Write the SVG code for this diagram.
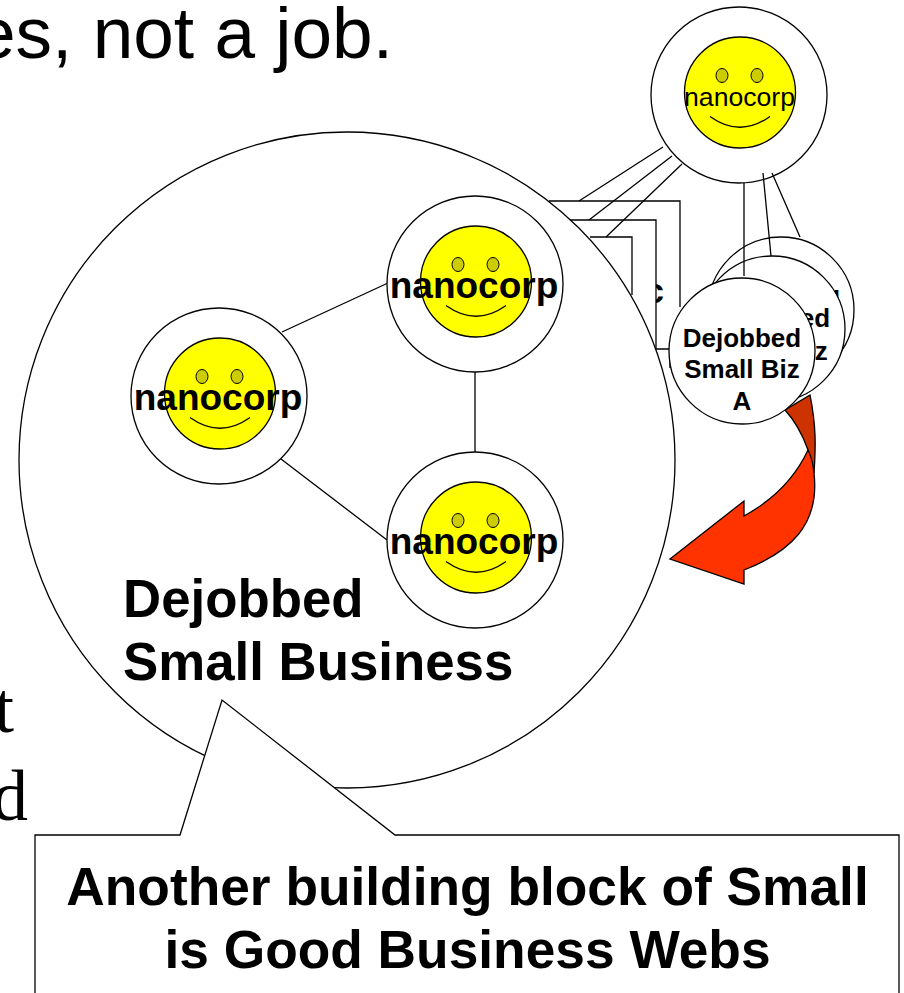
<svg xmlns="http://www.w3.org/2000/svg" xmlns:xlink="http://www.w3.org/1999/xlink" width="904" height="993" viewBox="0 0 904 993">
<style>
.ln{fill:none;stroke:#000;stroke-width:1.3}
.disc{fill:#fff;stroke:#000;stroke-width:1.3}
.sans{font-family:"Liberation Sans",Arial,sans-serif}
.b{font-weight:700;fill:#000}
.nano{font-size:37px;text-anchor:middle}
.biz{font-size:26px;text-anchor:middle}
.big{font-size:52.8px}
.call{font-size:53.3px;text-anchor:middle}
.slide{font-family:"Liberation Serif","Times New Roman",serif;font-size:72px;fill:#000}
</style>
<defs>
<g id="face">
<circle cx="1" cy="-2.5" r="55.5" fill="#ffff00" stroke="#000" stroke-width="1.3"/>
<ellipse cx="-17" cy="-19.5" rx="6" ry="7" fill="#cccc00" stroke="#000" stroke-width="1"/>
<ellipse cx="18" cy="-19.5" rx="6" ry="7" fill="#cccc00" stroke="#000" stroke-width="1"/>
<path d="M-29 21.5Q1 43 31 21.5" fill="none" stroke="#000" stroke-width="1.3"/>
</g>
</defs>
<rect width="904" height="993" fill="#fff"/>
<text id="slide-top" class="sans" x="393" y="58" font-size="73" text-anchor="end" fill="#000">es, not a job.</text>
<text id="slide-t" class="slide" x="14" y="732" text-anchor="end">t</text>
<text id="slide-d" class="slide" x="28" y="820" text-anchor="end">d</text>

<g id="arrow">
<path d="M810 395L785 410C796 422 803 436 808 450L814 473C816 445 816 425 810 395Z" fill="#cc3300" stroke="#000" stroke-width="1.3"/>
<path d="M808 450C795 478 773 500 744 516V501L670 559L744 584V570C790 552 820 525 814 473C813 463 811 456 808 450Z" fill="#ff3300" stroke="#000" stroke-width="1.3"/>
<rect x="669" y="350" width="5" height="18" fill="#cc3300"/>
</g>

<text class="sans b" x="664" y="303" font-size="35" text-anchor="end">c</text>
<rect x="633" y="238" width="23" height="110" fill="#fff"/>

<g id="connectors">
<path class="ln" d="M663 147L579 201M672 156L589 220M682 164L606 237"/>
<path class="ln" d="M549 201H680V307"/>
<path class="ln" d="M570 220H656V349H669"/>
<path class="ln" d="M590 237H632V295"/>
</g>

<g id="node-biz-c">
<circle class="disc" cx="781" cy="310" r="73"/>
<text class="sans b biz" x="781" y="309">Dejobbed</text>
</g>
<g id="node-biz-b">
<circle class="disc" cx="772" cy="329" r="73"/>
<text class="sans b biz" x="771" y="327">Dejobbed</text>
<text class="sans b biz" x="770" y="360">Small Biz</text>
</g>
<g id="node-biz-a">
<circle class="disc" cx="742" cy="351" r="73"/>
<text class="sans b biz" x="742" y="347">Dejobbed</text>
<text class="sans b biz" x="742" y="378">Small Biz</text>
<text class="sans b biz" x="742" y="410">A</text>
</g>

<g id="node-top">
<circle class="disc" cx="739" cy="95" r="88"/>
<use href="#face" xlink:href="#face" x="739" y="95"/>
<text class="sans" x="739.5" y="105.5" font-size="26.6" text-anchor="middle" fill="#000">nanocorp</text>
</g>

<g id="connectors-top">
<path class="ln" d="M744 183V276M763 173L771 256M772 173L800 237"/>
</g>

<g id="node-dejobbed">
<circle class="disc" cx="347" cy="460" r="328"/>
<text class="sans b big" x="123" y="617">Dejobbed</text>
<text class="sans b big" x="123" y="680">Small Business</text>
</g>

<g id="inner-connectors">
<path class="ln" d="M282 332L388 283M475 372V452M281 459L387 540"/>
</g>

<g id="node-nano-1">
<circle class="disc" cx="475" cy="284" r="88"/>
<use href="#face" xlink:href="#face" x="475" y="284"/>
<text class="sans b nano" x="474" y="298">nanocorp</text>
</g>
<g id="node-nano-2">
<circle class="disc" cx="219" cy="396" r="88"/>
<use href="#face" xlink:href="#face" x="219" y="396"/>
<text class="sans b nano" x="218" y="410">nanocorp</text>
</g>
<g id="node-nano-3">
<circle class="disc" cx="475" cy="540" r="88"/>
<use href="#face" xlink:href="#face" x="475" y="540"/>
<text class="sans b nano" x="474" y="554">nanocorp</text>
</g>

<g id="callout">
<path d="M35 994V835H180L222 700L395 835H899V994" fill="#fff" stroke="#000" stroke-width="1.3"/>
<text class="sans b call" x="467.5" y="905">Another building block of Small</text>
<text class="sans b call" x="467.5" y="968">is Good Business Webs</text>
</g>
</svg>
